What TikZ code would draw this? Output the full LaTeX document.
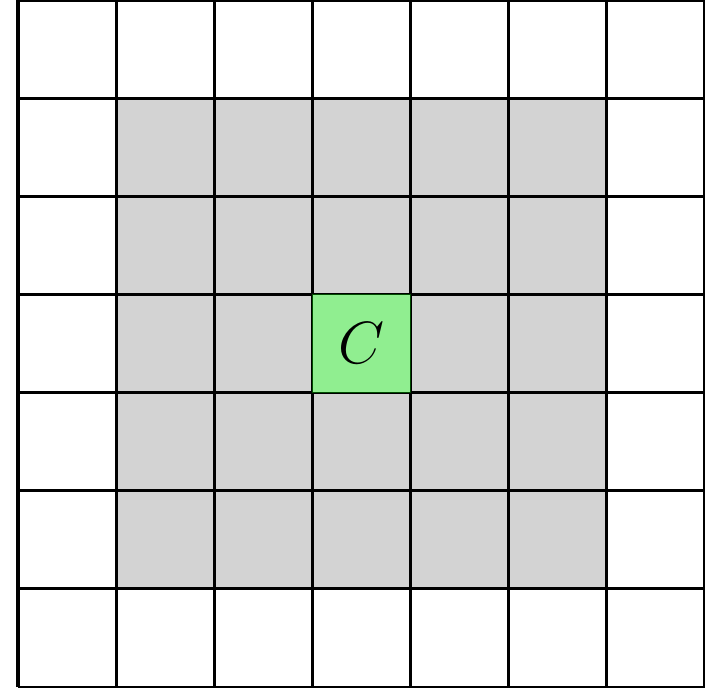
\documentclass[tikz,border=0pt]{standalone}
\definecolor{cellgray}{RGB}{211,211,211}
\definecolor{cellgreen}{RGB}{144,238,144}
\tikzset{
  gridline/.style={line width=0.9pt, black},
  centercell/.style={draw=black!70!green, line width=0.4pt, fill=cellgreen, minimum size=1cm, inner sep=0pt, font=\fontsize{18.5pt}{20pt}\selectfont}
}
\begin{document}
\begin{tikzpicture}
\useasboundingbox (-0.183,0) rectangle (7,7);
\fill[white] (-0.183,0) rectangle (7,7);
\fill[cellgray] (1,1) rectangle (6,6);
\draw[gridline] (0,0) grid (7,7);
\node[centercell] (c) at (3.5,3.5) {$C$};
\end{tikzpicture}
\end{document}
